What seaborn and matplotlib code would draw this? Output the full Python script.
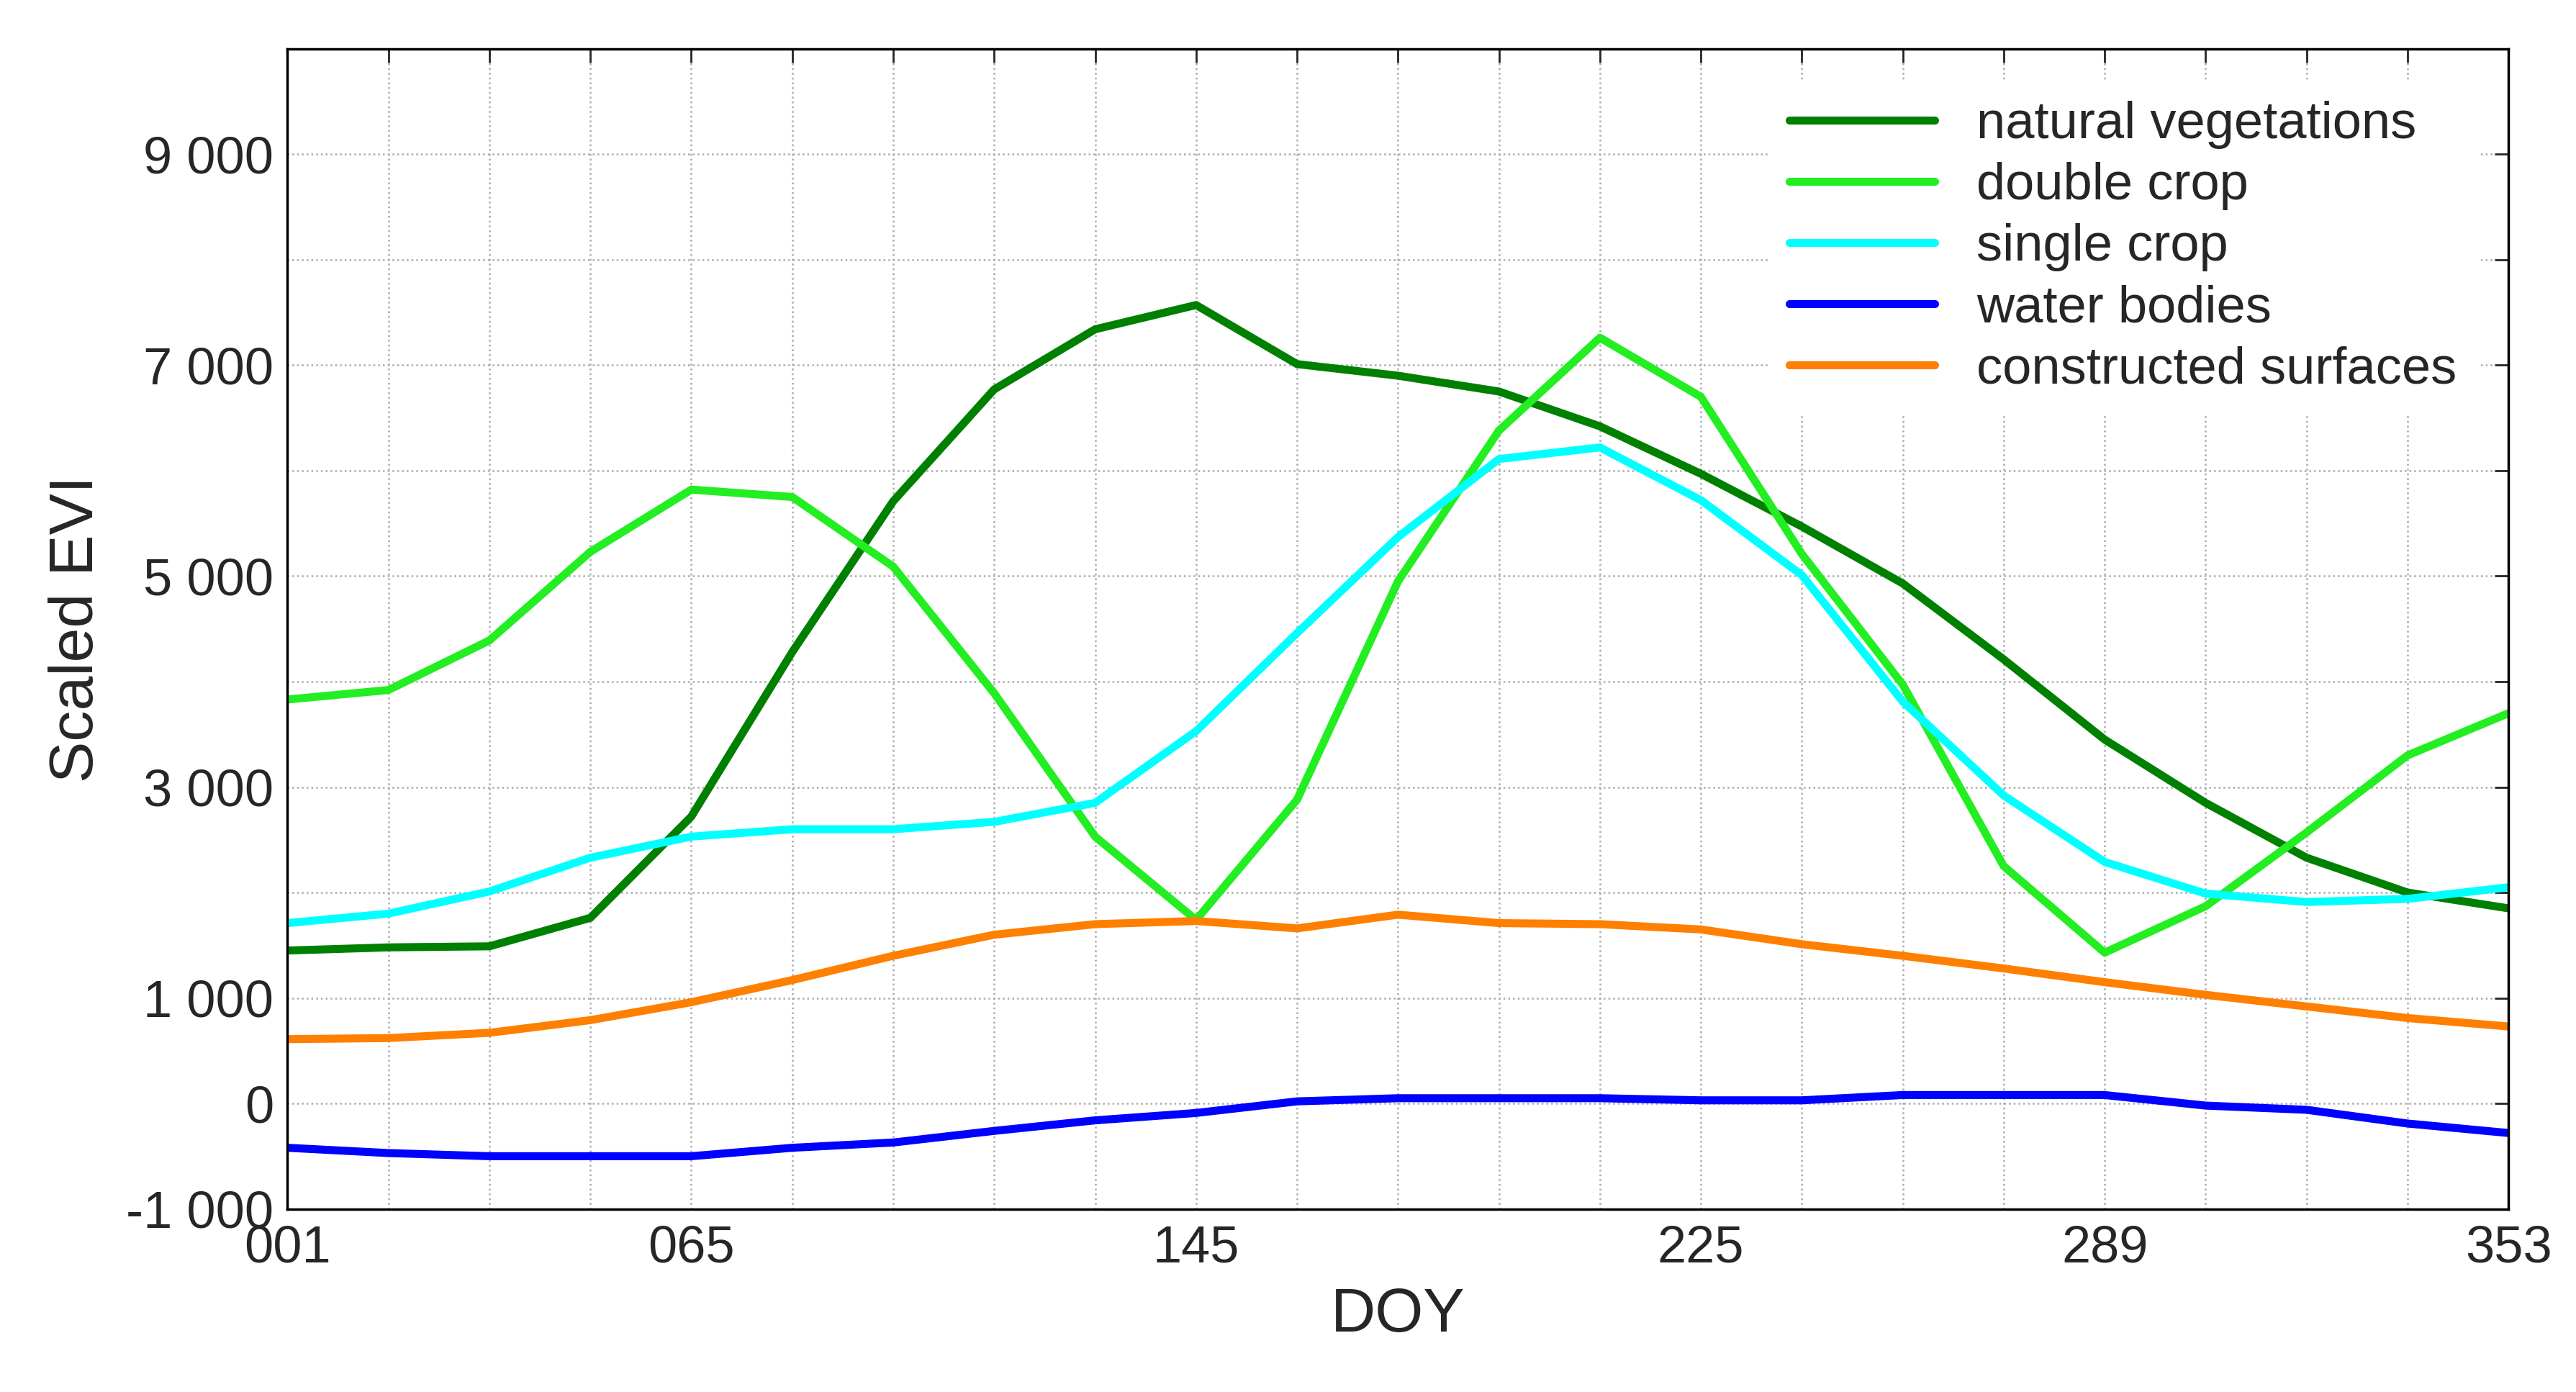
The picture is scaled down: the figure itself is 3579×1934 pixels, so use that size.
import numpy as np
import pandas as pd
import matplotlib
matplotlib.use("Agg")
import matplotlib.pyplot as plt
import seaborn as sns

doy = [1, 17, 33, 49, 65, 81, 97, 113, 129, 145, 161, 177, 193, 209, 225, 241, 257, 273, 289, 305, 321, 337, 353]
natural = [1450, 1480, 1490, 1760, 2720, 4280, 5710, 6770, 7340, 7570, 7010, 6900, 6750, 6420, 5970, 5470, 4930, 4210, 3450, 2850, 2330, 2000, 1850]
double = [3830, 3920, 4390, 5230, 5820, 5750, 5090, 3890, 2530, 1740, 2880, 4950, 6380, 7260, 6700, 5210, 3970, 2250, 1430, 1870, 2570, 3300, 3700]
single = [1710, 1800, 2010, 2330, 2530, 2600, 2600, 2670, 2850, 3530, 4460, 5370, 6110, 6220, 5720, 5010, 3810, 2920, 2290, 1990, 1910, 1940, 2050]
water = [-420, -470, -500, -500, -500, -420, -370, -260, -160, -90, 20, 50, 50, 50, 30, 30, 80, 80, 80, -20, -60, -190, -280]
constructed = [610, 620, 670, 790, 960, 1170, 1400, 1600, 1700, 1730, 1660, 1790, 1710, 1700, 1650, 1510, 1400, 1280, 1150, 1030, 920, 810, 730]
names = ["natural vegetations", "double crop", "single crop", "water bodies", "constructed surfaces"]
colors = ["#008000", "#22ee22", "#00ffff", "#0000ff", "#ff7f00"]
xtick_labels = ["001", "065", "145", "225", "289", "353"]

rows = []
for n, vals in zip(names, [natural, double, single, water, constructed]):
    for d, v in zip(doy, vals):
        rows.append({"DOY": d, "EVI": v, "class": n})
df = pd.DataFrame(rows)

sns.set_style("white")
plt.rcParams['font.family'] = ['Liberation Sans', 'DejaVu Sans']
fig = plt.figure(figsize=(35.79, 19.34), dpi=100)
ax = fig.add_axes([0.1116, 0.1315, 0.8622, 0.8335])
sns.lineplot(data=df, x="DOY", y="EVI", hue="class", hue_order=names,
             palette=dict(zip(names, colors)), linewidth=8, ax=ax)

ax.set_xlim(1, 353)
ax.set_ylim(-1000, 10000)
ax.set_xticks(doy)
ax.set_xticklabels([f"{d:03d}" if f"{d:03d}" in xtick_labels else "" for d in doy])
yt = list(range(-1000, 10001, 1000))
lab = {-1000: "-1 000", 0: "0", 1000: "1 000", 3000: "3 000", 5000: "5 000", 7000: "7 000", 9000: "9 000"}
ax.set_yticks(yt)
ax.set_yticklabels([lab.get(v, "") for v in yt])
ax.tick_params(axis="both", direction="in", length=14, width=2, labelsize=52,
               top=True, right=True)
ax.tick_params(axis="x", pad=16)
ax.tick_params(axis="y", pad=14)
ax.grid(True, linestyle=":", color="#aaaaaa", linewidth=1.8)
for s in ax.spines.values():
    s.set_linewidth(2.5)
    s.set_color("black")
ax.set_xlabel("DOY", fontsize=62, labelpad=14)
ax.set_ylabel("Scaled EVI", fontsize=62, labelpad=20)
leg = ax.legend(loc="upper right", fontsize=52, frameon=True, framealpha=1,
                edgecolor="white", handlelength=2.8, borderaxespad=0.6,
                labelspacing=0.25)
for h in leg.get_lines():
    h.set_linewidth(8)
fig.savefig("out.png", dpi=100)
